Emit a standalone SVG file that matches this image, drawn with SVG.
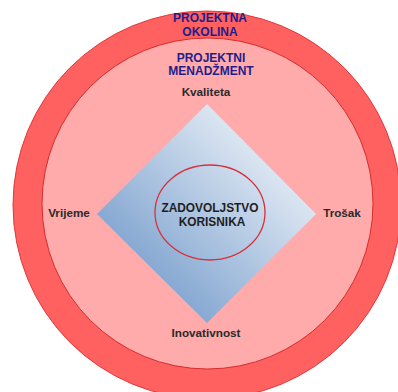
<svg xmlns="http://www.w3.org/2000/svg" width="398" height="392" viewBox="0 0 398 392">
  <defs>
    <linearGradient id="diamondGrad" x1="0" y1="1" x2="1" y2="0">
      <stop offset="0.2" stop-color="#7fa3cf"/>
      <stop offset="0.8" stop-color="#e3ebf5"/>
    </linearGradient>
  </defs>
  <style>
    .t { font-family: "Liberation Sans", Arial, sans-serif; font-weight: bold; text-anchor: middle; }
    .navy { fill: #1e1e8c; font-size: 12px; }
    .lbl { fill: #2a2a2a; font-size: 11.7px; }
    .core { fill: #1f1f1f; font-size: 11.9px; }
  </style>
  <rect width="398" height="392" fill="#ffffff"/>
  <g id="projektna-okolina">
    <circle cx="207" cy="205" r="194" fill="#ff6060" stroke="#e03a3a" stroke-width="1"/>
    <text class="t navy" x="210" y="22">PROJEKTNA</text>
    <text class="t navy" x="210" y="36">OKOLINA</text>
  </g>
  <g id="projektni-menadzment">
    <circle cx="207.5" cy="203.5" r="165.5" fill="#ffabab" stroke="#d42e2e" stroke-width="1"/>
    <text class="t navy" x="211" y="62">PROJEKTNI</text>
    <text class="t navy" x="211" y="75">MENADŽMENT</text>
  </g>
  <g id="diamond">
    <polygon points="207,104 316,214 207,323 97,214" fill="url(#diamondGrad)"/>
  </g>
  <g id="kvaliteta"><text class="t lbl" x="206" y="96">Kvaliteta</text></g>
  <g id="vrijeme"><text class="t lbl" x="69" y="217">Vrijeme</text></g>
  <g id="trosak"><text class="t lbl" x="342" y="217">Trošak</text></g>
  <g id="inovativnost"><text class="t lbl" x="206" y="337">Inovativnost</text></g>
  <g id="zadovoljstvo-korisnika">
    <ellipse cx="210" cy="212.5" rx="55" ry="47.5" fill="none" stroke="#d8303a" stroke-width="1.3"/>
    <text class="t core" x="210" y="212">ZADOVOLJSTVO</text>
    <text class="t core" x="212" y="226">KORISNIKA</text>
  </g>
  <g id="connectors"/>
</svg>
